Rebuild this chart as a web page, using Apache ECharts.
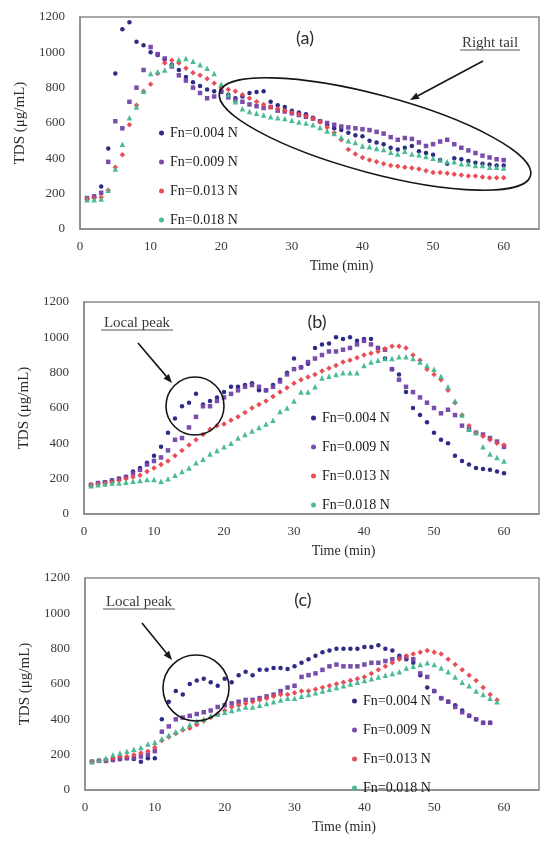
<!DOCTYPE html>
<html>
<head>
<meta charset="utf-8">
<script src="https://cdn.jsdelivr.net/npm/echarts/dist/echarts.min.js"></script>
<style>
html,body{margin:0;padding:0;background:#ffffff;}
#chart{width:541px;height:845px;}
</style>
</head>
<body>
<div id="chart"></div>
<script>
// ---------- data ----------
const seriesNames = ['Fn=0.004 N', 'Fn=0.009 N', 'Fn=0.013 N', 'Fn=0.018 N'];
const panelLabels = ['(a)', '(b)', '(c)'];
const xTicks = [0, 10, 20, 30, 40, 50, 60];
const yTicks = [0, 200, 400, 600, 800, 1000, 1200];
const xAxisMax = 65;

const minutes60 = [1,2,3,4,5,6,7,8,9,10,11,12,13,14,15,16,17,18,19,20,21,22,23,24,25,26,27,28,29,30,
  31,32,33,34,35,36,37,38,39,40,41,42,43,44,45,46,47,48,49,50,51,52,53,54,55,56,57,58,59,60];
const minutes58 = [1,2,3,4,5,6,7,8,9,10,11,12,13,14,15,16,17,18,19,20,21,22,23,24,25,26,27,28,29,30,
  31,32,33,34,35,36,37,38,39,40,41,42,43,44,45,46,47,48,49,50,51,52,53,54,55,56,57,58];
const minutes59 = [1,2,3,4,5,6,7,8,9,10,11,12,13,14,15,16,17,18,19,20,21,22,23,24,25,26,27,28,29,30,
  31,32,33,34,35,36,37,38,39,40,41,42,43,44,45,46,47,48,49,50,51,52,53,54,55,56,57,58,59];

// panel (a)
const a004 = [170,180,240,455,880,1130,1170,1060,1040,1000,985,960,930,900,860,830,810,790,780,775,
  760,740,750,770,775,780,720,700,690,670,660,650,630,610,590,570,560,545,530,525,
  500,490,480,460,450,460,470,440,430,420,390,370,400,395,385,375,370,365,360,360];
const a009 = [175,185,205,380,610,570,720,800,900,1030,990,965,920,870,840,800,770,740,750,780,
  745,730,720,705,695,685,690,670,665,655,645,635,625,610,600,590,580,575,570,565,
  560,550,540,520,505,515,510,490,470,480,495,505,480,460,445,430,415,405,395,390];
const a013 = [170,175,180,220,350,420,590,700,780,820,880,940,955,940,910,885,870,850,825,800,
  790,780,760,740,720,705,690,680,670,660,650,640,625,605,575,545,505,450,425,405,
  390,380,370,360,355,350,345,340,330,320,320,315,310,305,300,300,295,290,290,290];
const a018 = [165,165,170,220,340,480,630,690,780,880,890,900,930,960,965,950,930,910,880,820,
  760,720,680,665,655,645,635,630,625,615,605,600,590,575,555,540,520,500,490,470,
  465,455,450,435,425,440,425,420,410,400,390,380,380,370,370,360,360,350,350,345];

// panel (b)
const b004 = [160,175,180,190,200,210,240,260,290,330,380,460,540,610,630,680,620,640,660,690,
  720,720,730,740,700,700,730,760,800,880,830,850,940,960,965,1000,990,1000,980,990,
  990,940,880,820,790,690,600,560,520,460,420,400,330,300,280,260,255,250,240,230];
const b009 = [165,175,180,190,200,210,230,250,280,300,320,360,420,430,490,550,610,610,640,660,
  680,700,720,730,720,700,720,750,790,820,830,860,880,900,920,920,930,940,960,980,
  960,940,930,820,760,720,690,660,630,600,570,590,560,500,480,460,450,430,410,380];
const b013 = [165,170,175,180,190,200,210,220,240,260,280,300,330,360,390,420,450,480,500,510,
  530,550,575,600,620,640,665,690,715,740,760,775,790,810,825,840,860,870,885,900,
  910,920,935,950,950,940,900,870,820,790,760,700,630,560,500,460,440,420,400,390];
const b018 = [160,165,170,175,175,180,185,190,195,195,185,200,220,240,260,290,310,340,360,380,
  400,430,450,470,490,510,530,580,600,640,690,690,720,770,780,790,800,800,800,840,
  860,870,880,880,890,890,880,860,840,820,780,720,640,560,480,460,380,340,320,300];

// panel (c)
const c004 = [160,165,170,170,175,180,175,160,180,180,400,500,560,540,600,620,630,610,590,630,
  610,650,670,650,680,680,690,690,685,700,720,740,760,780,790,800,800,800,800,810,
  810,820,800,790,760,740,720,650,580,560,520,500,480,450,420,400,380,380];
const c009 = [160,165,165,170,175,180,180,190,200,220,330,360,400,410,420,430,440,450,470,480,
  490,500,510,510,520,530,540,560,580,590,640,650,660,680,700,710,700,700,700,710,
  720,720,730,740,750,750,740,660,640,560,520,500,470,440,420,400,380,380];
const c013 = [160,165,170,180,190,190,200,210,220,240,280,300,320,340,350,370,390,410,430,450,
  470,480,490,500,510,520,530,540,540,550,560,560,570,580,590,600,610,620,630,640,
  660,680,700,720,740,760,770,780,790,780,770,740,710,680,650,620,580,540,510];
const c018 = [160,170,180,200,210,220,230,240,260,270,290,310,330,350,370,390,400,420,430,440,
  450,460,470,470,480,490,500,510,520,520,530,540,550,560,570,580,590,600,610,620,
  630,640,650,660,670,690,700,710,720,710,690,670,640,610,590,560,540,520,500];

// ---------- styles ----------
const colors = ['#22207e', '#7143a8', '#e8454d', '#3fb88e'];
const symbols = ['circle', 'rect', 'diamond', 'triangle'];
const symbolSizes = [4.5, 4.5, 5.5, 5.5];
const serif = '"Liberation Serif", "DejaVu Serif", serif';

const grids = [
  {left: 80, right: 2, top: 17, height: 212},
  {left: 84, right: 2, top: 302, height: 212},
  {left: 85, right: 2, top: 578, height: 212}
];
const legendPos = [
  {left: 154, top: 120},
  {left: 306, top: 405},
  {left: 347, top: 688}
];

const panelData = [
  [[minutes60, a004], [minutes60, a009], [minutes60, a013], [minutes60, a018]],
  [[minutes60, b004], [minutes60, b009], [minutes60, b013], [minutes60, b018]],
  [[minutes58, c004], [minutes58, c009], [minutes59, c013], [minutes59, c018]]
];

const frameColor = '#8a8a8a';

const xAxes = grids.map((g, i) => ({
  type: 'value', gridIndex: i,
  min: xTicks[0], max: xAxisMax, interval: xTicks[1] - xTicks[0],
  axisLine: {show: true, onZero: false, lineStyle: {color: frameColor, width: 1.5}},
  axisTick: {show: false},
  splitLine: {show: false},
  axisLabel: {
    color: '#3a3a3a', fontFamily: serif, fontSize: 13, margin: 11,
    showMaxLabel: false,
    formatter: v => (xTicks.indexOf(v) >= 0 ? String(v) : '')
  },
  name: 'Time (min)', nameLocation: 'middle', nameGap: 30,
  nameTextStyle: {color: '#2a2a2a', fontFamily: serif, fontSize: 14, padding: [0, 0, 0, 64]}
}));

const yAxes = grids.map((g, i) => ({
  type: 'value', gridIndex: i,
  min: yTicks[0], max: yTicks[yTicks.length - 1], interval: yTicks[1] - yTicks[0],
  axisLine: {show: true, lineStyle: {color: frameColor, width: 1.5}},
  axisTick: {show: false},
  splitLine: {show: false},
  axisLabel: {color: '#3a3a3a', fontFamily: serif, fontSize: 13, margin: 15,
    formatter: v => String(v)},
  name: 'TDS (\u03bcg/mL)', nameLocation: 'middle', nameGap: 52, nameRotate: 90,
  nameTextStyle: {color: '#2a2a2a', fontFamily: serif, fontSize: 15}
}));

const series = [];
panelData.forEach((panel, p) => {
  panel.forEach((pair, s) => {
    const xs = pair[0], ys = pair[1];
    series.push({
      type: 'scatter', name: seriesNames[s],
      xAxisIndex: p, yAxisIndex: p,
      symbol: symbols[s], symbolSize: symbolSizes[s],
      itemStyle: {color: colors[s], opacity: 0.95},
      data: xs.map((m, k) => [m, ys[k]]),
      emphasis: {disabled: true},
      z: 2 + s
    });
  });
});

const legends = legendPos.map(pos => ({
  orient: 'vertical', left: pos.left, top: pos.top,
  itemWidth: 5, itemHeight: 5, itemGap: 13,
  selectedMode: false,
  data: seriesNames.map((n, s) => ({name: n, icon: 'circle', itemStyle: {color: colors[s]}})),
  textStyle: {color: '#1a1a1a', fontFamily: serif, fontSize: 14, lineHeight: 16, padding: [0, 0, 0, 1]}
}));

// ---------- annotations (pixel graphics) ----------
const ink = '#161616';
function arrow(x1, y1, x2, y2) {
  const ang = Math.atan2(y2 - y1, x2 - x1);
  const L = 9, W = 3.5;
  const bx = x2 - L * Math.cos(ang), by = y2 - L * Math.sin(ang);
  return [
    {type: 'line', shape: {x1: x1, y1: y1, x2: bx, y2: by}, style: {stroke: ink, lineWidth: 1.6}, z: 50},
    {type: 'polygon', shape: {points: [[x2, y2], [bx + W * Math.sin(ang), by - W * Math.cos(ang)], [bx - W * Math.sin(ang), by + W * Math.cos(ang)]]},
     style: {fill: ink}, z: 50}
  ];
}
function label(txt, x, y, size, family, color) {
  return {type: 'text', x: x, y: y, z: 50,
    style: {text: txt, fill: color || '#2a2a2a', font: size + 'px ' + family, align: 'center', verticalAlign: 'middle'}};
}
function underlinedLabel(txt, x, y, size, halfW) {
  return [
    label(txt, x, y, size, serif, '#3a3a3a'),
    {type: 'line', shape: {x1: x - halfW, y1: y + 7, x2: x + halfW, y2: y + 7}, style: {stroke: '#555555', lineWidth: 1}, z: 50}
  ];
}
const sans = '"Lato", "Open Sans", sans-serif';
const graphics = [].concat(
  [label(panelLabels[0], 305, 38, 18, sans), label(panelLabels[1], 317, 322, 18, sans), label(panelLabels[2], 303, 600, 18, sans)],
  underlinedLabel('Right tail', 490, 43, 15, 30),
  arrow(483, 61, 410, 100),
  [{type: 'ellipse', x: 375, y: 134, rotation: -15 * Math.PI / 180,
    shape: {cx: 0, cy: 0, rx: 161, ry: 39}, style: {fill: 'none', stroke: ink, lineWidth: 1.6}, z: 40}],
  underlinedLabel('Local peak', 137, 323, 15, 36),
  arrow(138, 343, 172, 383),
  [{type: 'circle', shape: {cx: 195, cy: 406, r: 29}, style: {fill: 'none', stroke: ink, lineWidth: 1.6}, z: 40}],
  underlinedLabel('Local peak', 139, 602, 15, 36),
  arrow(142, 623, 172, 660),
  [{type: 'circle', shape: {cx: 196, cy: 688, r: 33}, style: {fill: 'none', stroke: ink, lineWidth: 1.6}, z: 40}]
);

const chart = echarts.init(document.getElementById('chart'), null, {renderer: 'canvas'});
chart.setOption({
  backgroundColor: '#ffffff',
  animation: false,
  grid: grids.map(g => Object.assign({show: true, borderColor: frameColor, borderWidth: 1.5, backgroundColor: 'transparent'}, g)),
  xAxis: xAxes,
  yAxis: yAxes,
  legend: legends,
  series: series,
  graphic: graphics
});
</script>
</body>
</html>
